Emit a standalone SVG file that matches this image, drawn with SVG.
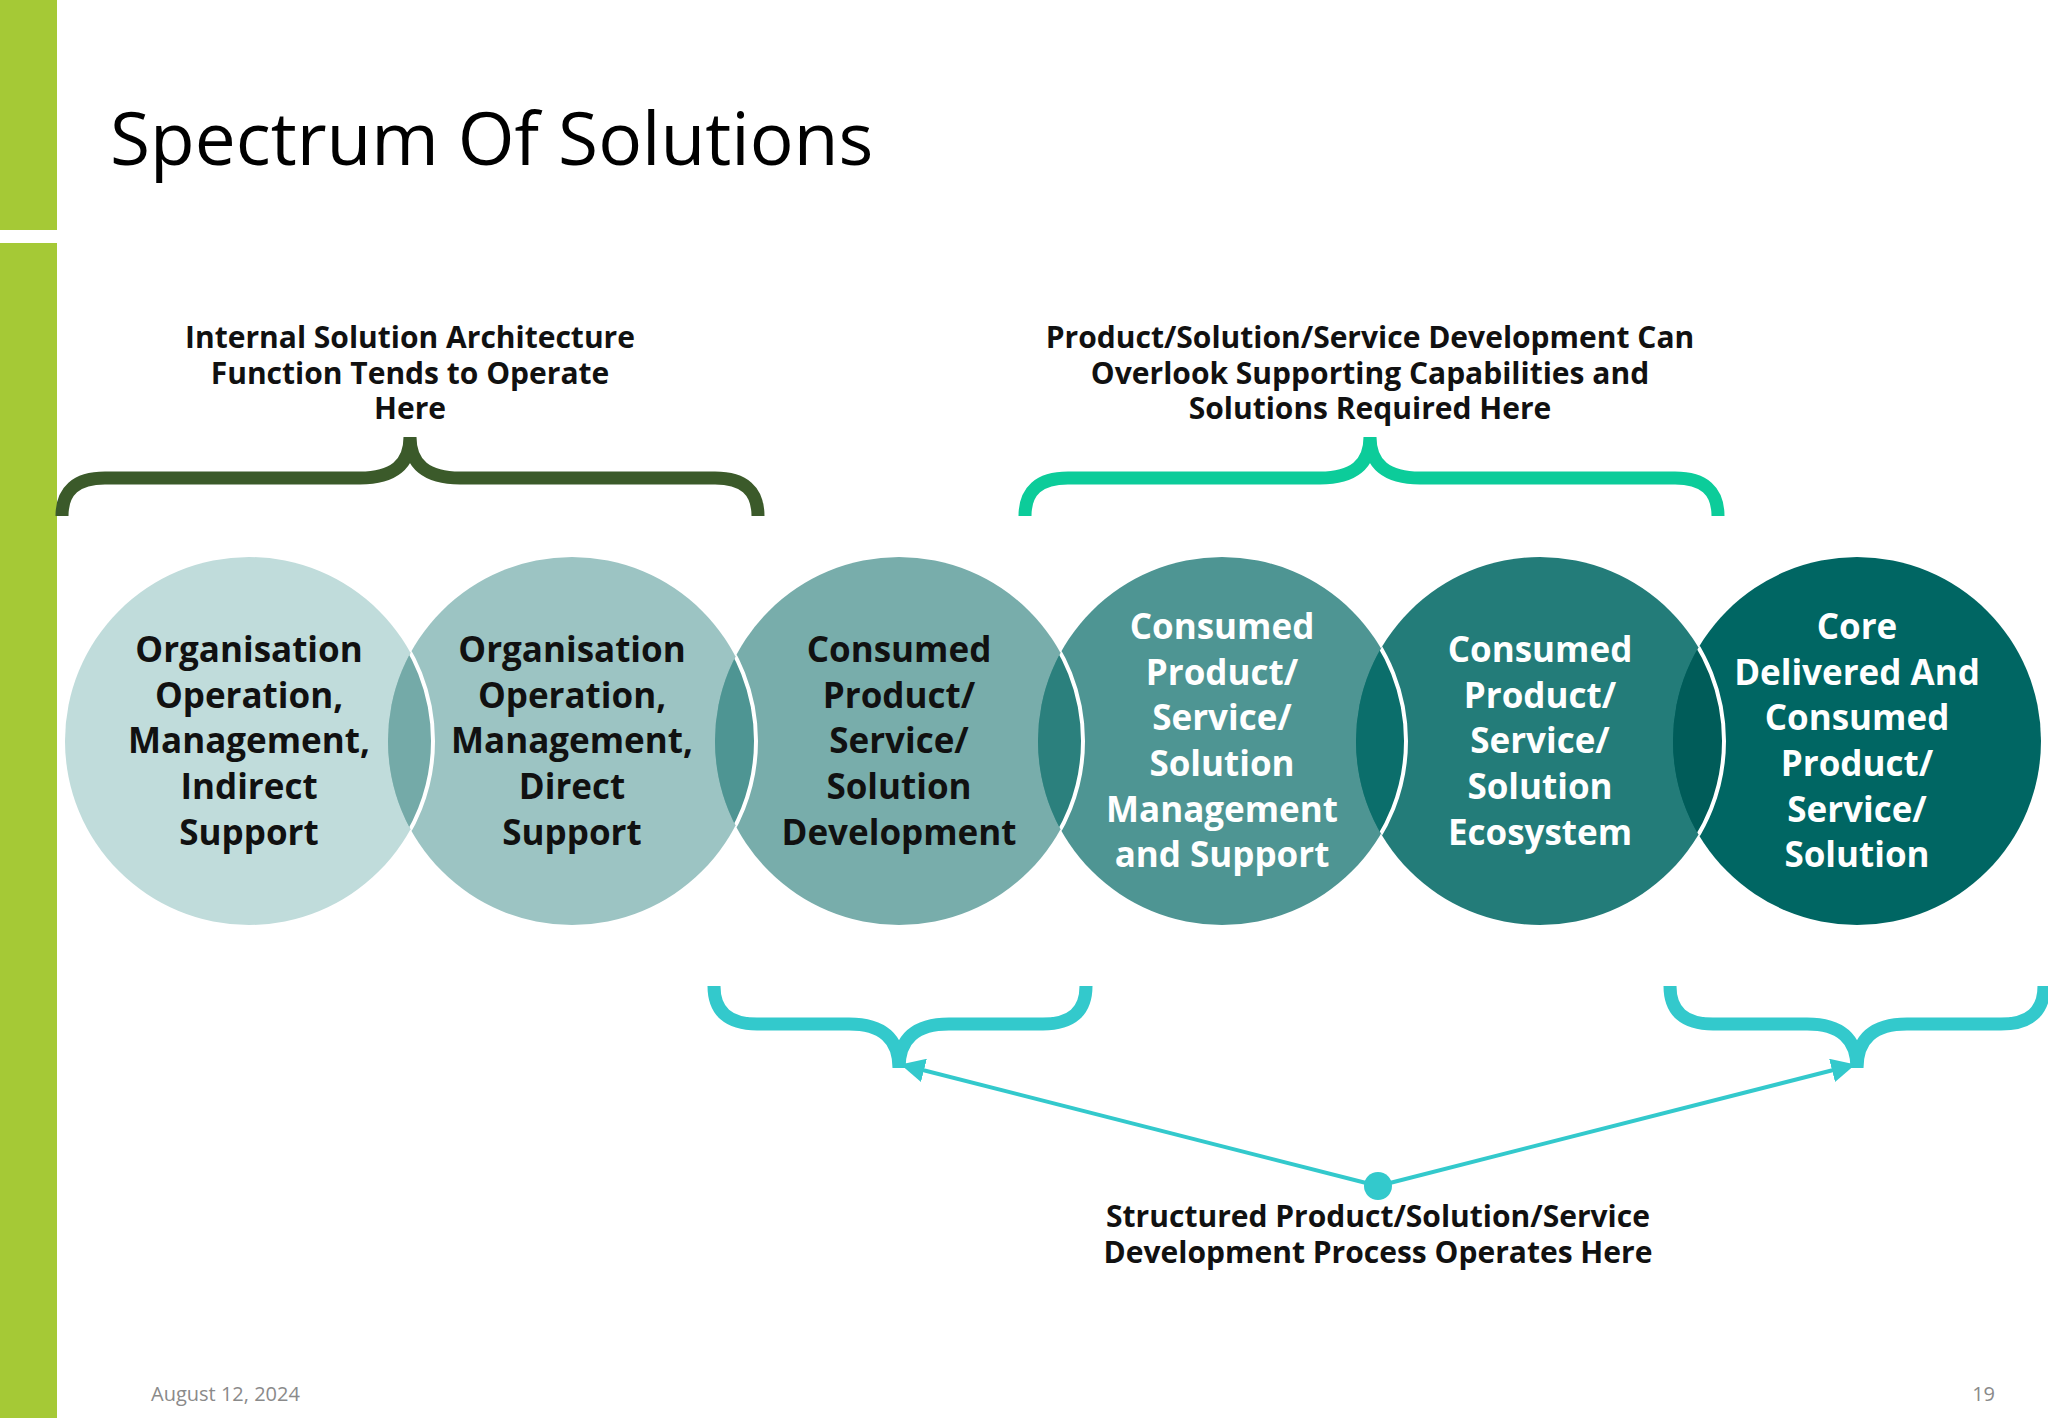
<svg xmlns="http://www.w3.org/2000/svg" width="2048" height="1418" viewBox="0 0 2048 1418">
<style>
.t{font-family:"Open Sans","Noto Sans",sans-serif;font-weight:bold;text-anchor:middle}
.c{font-size:35px}
.h{font-size:30px;fill:#111}
.br{fill:none;stroke-width:13;stroke-linecap:butt}
</style>
<defs>
<marker id="ah" viewBox="0 0 10 10" refX="9" refY="5" markerWidth="6" markerHeight="6" orient="auto"><path d="M0,0L10,5L0,10z" fill="#33c9cc"/></marker>
<clipPath id="k2"><circle cx="572" cy="741" r="184"/></clipPath>
<clipPath id="k3"><circle cx="899" cy="741" r="184"/></clipPath>
<clipPath id="k4"><circle cx="1222" cy="741" r="184"/></clipPath>
<clipPath id="k5"><circle cx="1540" cy="741" r="184"/></clipPath>
<clipPath id="k6"><circle cx="1857" cy="741" r="184"/></clipPath>
</defs>
<rect width="2048" height="1418" fill="#fff"/>
<rect x="0" y="0" width="57" height="230" fill="#a5c936"/>
<rect x="0" y="243" width="57" height="1175" fill="#a5c936"/>
<text x="110" y="165" font-family="'Open Sans','Noto Sans',sans-serif" font-size="73" fill="#000">Spectrum Of Solutions</text>
<g id="nodes">
<g id="n1"><circle cx="249" cy="741" r="184" fill="#c0dcdb"/></g>
<g id="n2"><circle cx="572" cy="741" r="184" fill="#9cc4c3"/></g>
<g id="n3"><circle cx="899" cy="741" r="184" fill="#78adab"/></g>
<g id="n4"><circle cx="1222" cy="741" r="184" fill="#4e9593"/></g>
<g id="n5"><circle cx="1540" cy="741" r="184" fill="#237c79"/></g>
<g id="n6"><circle cx="1857" cy="741" r="184" fill="#006663"/></g>
<g id="lens">
<circle cx="249" cy="741" r="184" fill="#74aaa8" clip-path="url(#k2)"/>
<circle cx="572" cy="741" r="184" fill="#4e9593" clip-path="url(#k3)"/>
<circle cx="899" cy="741" r="184" fill="#2b807d" clip-path="url(#k4)"/>
<circle cx="1222" cy="741" r="184" fill="#0b6e6b" clip-path="url(#k5)"/>
<circle cx="1540" cy="741" r="184" fill="#005c59" clip-path="url(#k6)"/>
<g fill="none" stroke="#fff" stroke-width="4">
<circle cx="249" cy="741" r="184" clip-path="url(#k2)"/>
<circle cx="572" cy="741" r="184" clip-path="url(#k3)"/>
<circle cx="899" cy="741" r="184" clip-path="url(#k4)"/>
<circle cx="1222" cy="741" r="184" clip-path="url(#k5)"/>
<circle cx="1540" cy="741" r="184" clip-path="url(#k6)"/>
</g>
</g>
<text class="t c" fill="#111"><tspan x="249" y="662">Organisation</tspan><tspan x="249" y="708">Operation,</tspan><tspan x="249" y="753">Management,</tspan><tspan x="249" y="799">Indirect</tspan><tspan x="249" y="845">Support</tspan></text>
<text class="t c" fill="#111"><tspan x="572" y="662">Organisation</tspan><tspan x="572" y="708">Operation,</tspan><tspan x="572" y="753">Management,</tspan><tspan x="572" y="799">Direct</tspan><tspan x="572" y="845">Support</tspan></text>
<text class="t c" fill="#111"><tspan x="899" y="662">Consumed</tspan><tspan x="899" y="708">Product/</tspan><tspan x="899" y="753">Service/</tspan><tspan x="899" y="799">Solution</tspan><tspan x="899" y="845">Development</tspan></text>
<text class="t c" fill="#fff"><tspan x="1222" y="639">Consumed</tspan><tspan x="1222" y="685">Product/</tspan><tspan x="1222" y="730">Service/</tspan><tspan x="1222" y="776">Solution</tspan><tspan x="1222" y="822">Management</tspan><tspan x="1222" y="867">and Support</tspan></text>
<text class="t c" fill="#fff"><tspan x="1540" y="662">Consumed</tspan><tspan x="1540" y="708">Product/</tspan><tspan x="1540" y="753">Service/</tspan><tspan x="1540" y="799">Solution</tspan><tspan x="1540" y="845">Ecosystem</tspan></text>
<text class="t c" fill="#fff"><tspan x="1857" y="639">Core</tspan><tspan x="1857" y="685">Delivered And</tspan><tspan x="1857" y="730">Consumed</tspan><tspan x="1857" y="776">Product/</tspan><tspan x="1857" y="822">Service/</tspan><tspan x="1857" y="867">Solution</tspan></text>
</g>
<g id="labels">
<text class="t h"><tspan x="410" y="348">Internal Solution Architecture</tspan><tspan x="410" y="384">Function Tends to Operate</tspan><tspan x="410" y="419">Here</tspan></text>
<text class="t h"><tspan x="1370" y="348">Product/Solution/Service Development Can</tspan><tspan x="1370" y="384">Overlook Supporting Capabilities and</tspan><tspan x="1370" y="419">Solutions Required Here</tspan></text>
<text class="t h"><tspan x="1378" y="1227">Structured Product/Solution/Service</tspan><tspan x="1378" y="1263">Development Process Operates Here</tspan></text>
</g>
<g id="connectors">
<path class="br" stroke="#3b5a2a" d="M62,516 Q62,478 105,478 L360,478 Q410,478 410,437 Q410,478 460,478 L715,478 Q758,478 758,516"/>
<path class="br" stroke="#0ccc9a" d="M1025,516 Q1025,478 1068,478 L1320,478 Q1370,478 1370,437 Q1370,478 1420,478 L1675,478 Q1718,478 1718,516"/>
<path class="br" stroke="#33c9cc" d="M714,986 Q714,1024 757,1024 L849,1024 Q899,1024 899,1068 Q899,1024 949,1024 L1043,1024 Q1086,1024 1086,986"/>
<path class="br" stroke="#33c9cc" d="M1670,986 Q1670,1024 1713,1024 L1807,1024 Q1857,1024 1857,1068 Q1857,1024 1907,1024 L2001,1024 Q2044,1024 2044,986"/>
<line x1="1378" y1="1186" x2="903" y2="1065" stroke="#33c9cc" stroke-width="4" marker-end="url(#ah)"/>
<line x1="1378" y1="1186" x2="1853" y2="1065" stroke="#33c9cc" stroke-width="4" marker-end="url(#ah)"/>
<circle cx="1378" cy="1186" r="14" fill="#33c9cc"/>
</g>
<text x="151" y="1401" font-family="'Open Sans','Noto Sans',sans-serif" font-size="20" fill="#8a8a8a">August 12, 2024</text>
<text x="1995" y="1401" text-anchor="end" font-family="'Open Sans','Noto Sans',sans-serif" font-size="20" fill="#8a8a8a">19</text>
</svg>
